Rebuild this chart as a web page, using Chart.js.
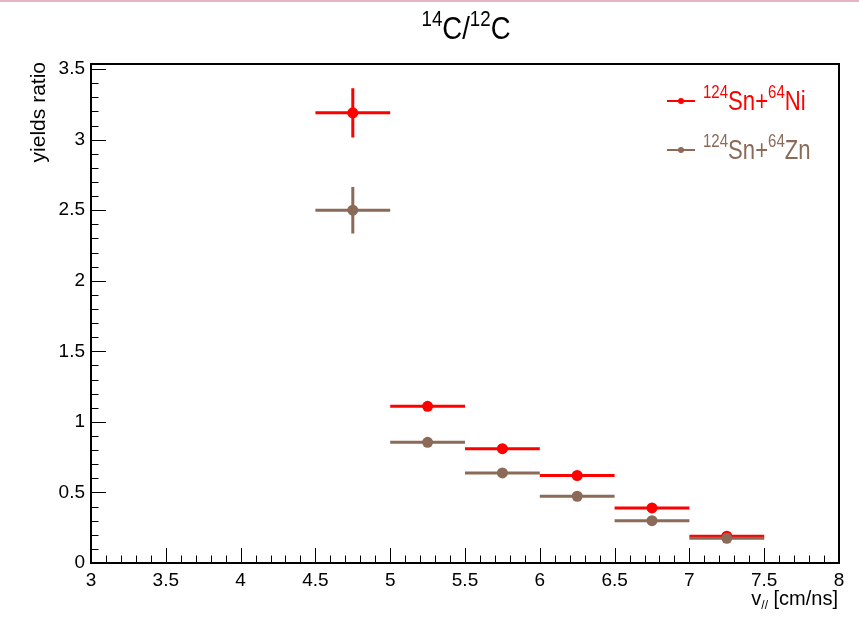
<!DOCTYPE html>
<html>
<head>
<meta charset="utf-8">
<script src="https://cdn.jsdelivr.net/npm/chart.js@4.4.0/dist/chart.umd.min.js"></script>
<style>
  body { margin: 0; background: #fff; }
  #wrap { position: relative; width: 859px; height: 621px; overflow: hidden; font-family: 'Liberation Sans', Arial, sans-serif; }
  #topline { position: absolute; left: 0; top: 0; width: 859px; height: 2px; background: #e4b5c6; }
  #chart { position: absolute; left: 0; top: 0; }
  .txt { position: absolute; white-space: nowrap; line-height: 1; }
  sup { font-size: 0.68em; vertical-align: 0.62em; line-height: 0; }
  sub { font-size: 0.6em; vertical-align: -0.35em; line-height: 0; }
  .leg { position: absolute; left: 667px; height: 30px; }
  .leg .line { position: absolute; left: 0; top: 14px; width: 28px; height: 2px; }
  .leg .dot { position: absolute; left: 11px; top: 12px; width: 6px; height: 6px; border-radius: 50%; }
  .leg .name { position: absolute; left: 36px; top: 0; font-size: 28px; line-height: 30px; transform-origin: left center; transform: scaleX(0.79); }
</style>
</head>
<body>
<div id="wrap">
  <div id="topline"></div>
  <canvas id="chart" width="859" height="621"></canvas>
  <div class="txt" id="title" style="left:466px; top:12px; transform:translateX(-50%) scaleX(0.86); font-size:32px;"><sup>14</sup>C/<sup>12</sup>C</div>
  <div class="txt" id="ytitle" style="left:26px; top:262px; width:200px; text-align:right; font-size:21px; line-height:24px; transform-origin:left top; transform:rotate(-90deg);">yields ratio</div>
  <div class="txt" id="xtitle" style="right:21px; top:588px; font-size:20px;">v<sub>//</sub> [cm/ns]</div>
  <div class="leg" style="top:86px; color:#ff0000;"><div class="line" style="background:#ff0000"></div><div class="dot" style="background:#ff0000"></div><div class="name"><sup>124</sup>Sn+<sup>64</sup>Ni</div></div>
  <div class="leg" style="top:135px; color:#8b6a57;"><div class="line" style="background:#8b6a57"></div><div class="dot" style="background:#8b6a57"></div><div class="name"><sup>124</sup>Sn+<sup>64</sup>Zn</div></div>
</div>
<script>
const binLow = [4.5, 5.0, 5.5, 6.0, 6.5, 7.0];
const binHigh = [5.0, 5.5, 6.0, 6.5, 7.0, 7.5];
const binCenter = [4.75, 5.25, 5.75, 6.25, 6.75, 7.25];

const niRatio = [3.19, 1.11, 0.81, 0.62, 0.39, 0.19];
const niError = [0.175, 0.03, 0.025, 0.02, 0.015, 0.01];
const znRatio = [2.50, 0.855, 0.638, 0.473, 0.30, 0.175];
const znError = [0.165, 0.025, 0.02, 0.018, 0.012, 0.01];

const xTicks = [3, 3.5, 4, 4.5, 5, 5.5, 6, 6.5, 7, 7.5, 8];
const yTicks = [0, 0.5, 1, 1.5, 2, 2.5, 3, 3.5];

const NI_COLOR = '#ff0000';
const ZN_COLOR = '#8b6a57';
const FONT = "'Liberation Sans', Arial, sans-serif";

// horizontal bin-width bars, with gaps between bins
function binSegments(vals) {
    const out = [];
    vals.forEach((v, i) => {
        out.push({ x: binLow[i], y: v }, { x: binHigh[i], y: v }, { x: binHigh[i], y: null });
    });
    return out;
}

// vertical error bars
function errSegments(vals, errs) {
    const out = [];
    vals.forEach((v, i) => {
        out.push({ x: binCenter[i], y: v - errs[i] }, { x: binCenter[i], y: v + errs[i] }, { x: binCenter[i], y: null });
    });
    return out;
}

function points(vals) {
    return vals.map((v, i) => ({ x: binCenter[i], y: v }));
}

function series(vals, errs, color, order) {
    const line = { showLine: true, spanGaps: false, pointRadius: 0, borderWidth: 3, borderColor: color, backgroundColor: color, order: order };
    return [
        Object.assign({ data: binSegments(vals) }, line),
        Object.assign({ data: errSegments(vals, errs) }, line),
        { data: points(vals), showLine: false, pointRadius: 5.5, pointHoverRadius: 5.5, pointBorderWidth: 0, backgroundColor: color, borderColor: color, order: order }
    ];
}

// ROOT-like frame with ticks drawn inside the axes
const frameTicks = {
    id: 'frameTicks',
    afterDatasetsDraw(chart) {
        const { ctx, chartArea: a, scales: { x, y } } = chart;
        ctx.save();
        ctx.strokeStyle = '#000';
        ctx.lineWidth = 1;
        ctx.beginPath();
        for (let k = 0; k <= 50; k++) {
            const px = Math.round(x.getPixelForValue(3 + k * 0.1)) + 0.5;
            const len = k % 5 === 0 ? 15 : 7.5;
            ctx.moveTo(px, a.bottom);
            ctx.lineTo(px, a.bottom - len);
        }
        for (let k = 0; k <= 35; k++) {
            const py = Math.round(y.getPixelForValue(k * 0.1)) + 0.5;
            const len = k % 5 === 0 ? 15 : 7.5;
            ctx.moveTo(a.left, py);
            ctx.lineTo(a.left + len, py);
        }
        ctx.stroke();
        ctx.lineWidth = 2;
        ctx.strokeRect(a.left, a.top, a.right - a.left, a.bottom - a.top);
        ctx.restore();
    }
};

new Chart(document.getElementById('chart'), {
    type: 'scatter',
    data: {
        datasets: [
            ...series(niRatio, niError, NI_COLOR, 1),
            ...series(znRatio, znError, ZN_COLOR, 0)
        ]
    },
    options: {
        responsive: false,
        animation: false,
        events: [],
        layout: { padding: { left: 0, right: 20, top: 64, bottom: 0 } },
        plugins: { legend: { display: false }, tooltip: { enabled: false }, title: { display: false } },
        scales: {
            x: {
                type: 'linear', min: 3, max: 8,
                grid: { display: false, drawTicks: false }, border: { display: false },
                afterBuildTicks: s => { s.ticks = xTicks.map(v => ({ value: v })); },
                afterFit: s => { s.height = 58; },
                ticks: { padding: 6, color: '#000', maxRotation: 0, autoSkip: false, font: { family: FONT, size: 19 }, callback: v => String(v) }
            },
            y: {
                type: 'linear', min: 0, max: 3.536,
                grid: { display: false, drawTicks: false }, border: { display: false },
                afterBuildTicks: s => { s.ticks = yTicks.map(v => ({ value: v })); },
                afterFit: s => { s.width = 91; },
                ticks: { padding: 6, color: '#000', autoSkip: false, font: { family: FONT, size: 19 }, callback: v => String(v) }
            }
        }
    },
    plugins: [frameTicks]
});
</script>
</body>
</html>
